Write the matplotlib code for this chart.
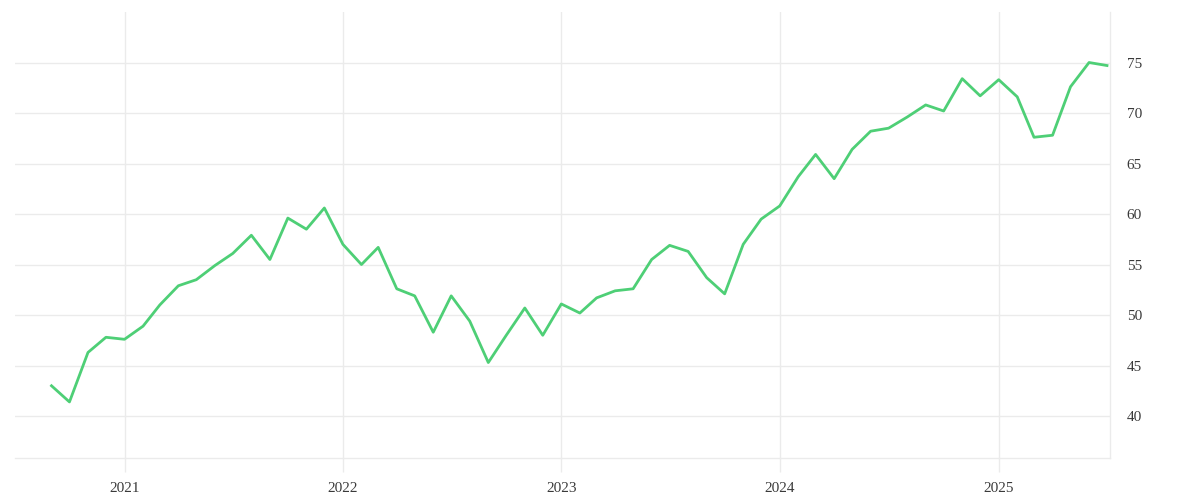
import matplotlib
matplotlib.use("Agg")
import matplotlib.pyplot as plt
import matplotlib.dates as mdates
import numpy as np
import pandas as pd

# monthly values, Sep 2020 .. Jul 2025
start_month = "2020-09-01"
values = [
    43.0, 41.4, 46.3, 47.8,                                              # 2020
    47.6, 48.9, 51.0, 52.9, 53.5, 54.9, 56.1, 57.9, 55.5, 59.6, 58.5, 60.6,  # 2021
    57.0, 55.0, 56.7, 52.6, 51.9, 48.3, 51.9, 49.4, 45.3, 48.0, 50.7, 48.0,  # 2022
    51.1, 50.2, 51.7, 52.4, 52.6, 55.5, 56.9, 56.3, 53.7, 52.1, 57.0, 59.5,  # 2023
    60.8, 63.7, 65.9, 63.5, 66.4, 68.2, 68.5, 69.6, 70.8, 70.2, 73.4, 71.7,  # 2024
    73.3, 71.6, 67.6, 67.8, 72.6, 75.0, 74.7,                                # 2025
]
y_ticks = [40, 45, 50, 55, 60, 65, 70, 75]
year_ticks = ["2021", "2022", "2023", "2024", "2025"]

dates = pd.date_range(start_month, periods=len(values), freq="MS")

GRID = "#ebebeb"
TEXT = "#3a3a3a"

fig = plt.figure(figsize=(12, 5), dpi=100)
ax = fig.add_axes([0.0125, 0.084, 0.9125, 0.892])

ax.plot(dates, values, color="#4ecf76", lw=2.0)

ax.set_xlim(pd.Timestamp("2020-07-02"), pd.Timestamp("2025-07-06"))
ax.set_ylim(35.85, 80)

ax.set_xticks([pd.Timestamp(f"{y}-01-01") for y in year_ticks])
ax.xaxis.set_major_formatter(mdates.DateFormatter("%Y"))
ax.set_yticks(y_ticks)

ax.yaxis.tick_right()
ax.grid(True, color=GRID, lw=1)
ax.set_axisbelow(True)

for side in ["left", "top"]:
    ax.spines[side].set_visible(False)
for side in ["right", "bottom"]:
    ax.spines[side].set_color(GRID)
    ax.spines[side].set_linewidth(1)

ax.tick_params(axis="x", length=10, width=1, color=GRID, pad=7, labelsize=11, labelcolor=TEXT)
ax.tick_params(axis="y", length=0, pad=12, labelsize=11, labelcolor=TEXT)
for lab in ax.get_xticklabels() + ax.get_yticklabels():
    lab.set_family("Liberation Serif")

fig.savefig("out.png", dpi=100)
